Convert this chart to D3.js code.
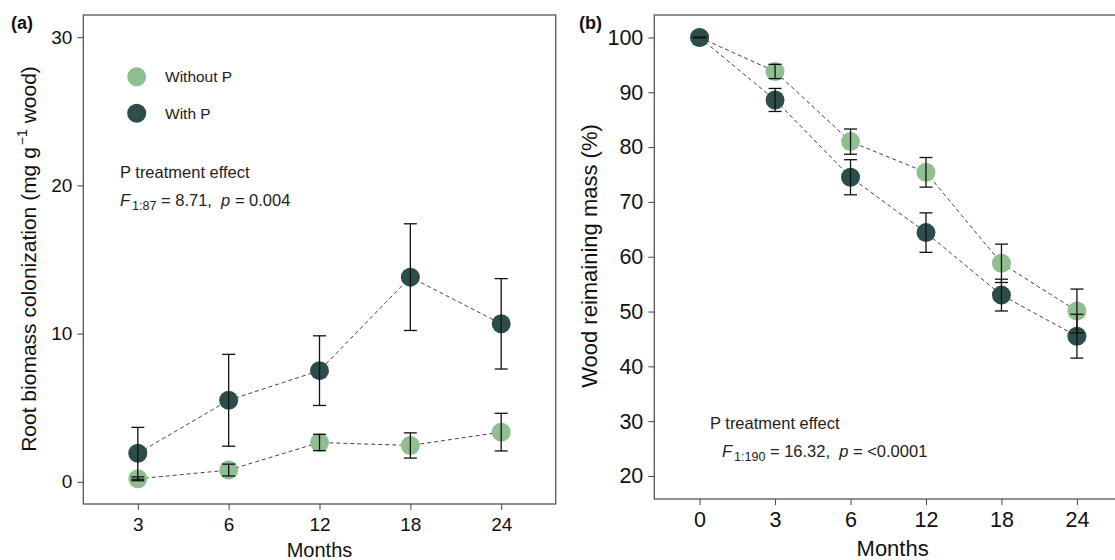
<!DOCTYPE html>
<html>
<head>
<meta charset="utf-8">
<script src="https://cdn.jsdelivr.net/npm/d3@7"></script>
<style>
  body { margin: 0; background: #fff; }
  svg text { font-family: Arial, "Liberation Sans", sans-serif; }
</style>
</head>
<body>
<svg id="chart" width="1115" height="560"></svg>
<script>
// panel (a) root biomass colonization
const monthsA = ["3", "6", "12", "18", "24"];
const withoutA = [0.2, 0.79, 2.65, 2.45, 3.35];
const withoutAErr = [0.13, 0.4, 0.55, 0.85, 1.27];
const withA = [1.92, 5.5, 7.5, 13.81, 10.66];
const withAErr = [1.75, 3.1, 2.35, 3.6, 3.05];
const ticksA = [0, 10, 20, 30];

// panel (b) wood remaining mass
const monthsB = ["0", "3", "6", "12", "18", "24"];
const withoutB = [100, 93.8, 81.0, 75.4, 58.8, 50.1];
const withoutBErr = [0, 1.3, 2.3, 2.7, 3.5, 4.0];
const withB = [100, 88.6, 74.5, 64.4, 53.0, 45.5];
const withBErr = [0, 2.1, 3.2, 3.6, 2.9, 4.0];
const ticksB = [20, 30, 40, 50, 60, 70, 80, 90, 100];

const colWithout = "#8fbe90";
const colWith = "#2c4d4a";
const nb = "\u00a0";

const svg = d3.select("#chart");

let draw_panel = function(cfg) {
  let x = d3.scaleLinear().domain([-0.6, cfg.months.length - 0.4]).range([cfg.left, cfg.right]);
  let y = d3.scaleLinear().domain(cfg.ydom).range([cfg.bottom, cfg.top]);
  let g = svg.append("g");

  g.append("rect")
    .attr("x", cfg.left).attr("y", cfg.top)
    .attr("width", cfg.right - cfg.left).attr("height", cfg.bottom - cfg.top)
    .attr("fill", "none").attr("stroke", "#555").attr("stroke-width", 1.3);

  let yAxis = g.append("g")
    .attr("transform", `translate(${cfg.left},0)`)
    .call(d3.axisLeft(y).tickValues(cfg.yticks).tickSize(6).tickPadding(5).tickSizeOuter(0));
  yAxis.select(".domain").remove();
  yAxis.selectAll("text").attr("font-size", cfg.tickFont).attr("fill", "#111");
  yAxis.selectAll("line").attr("stroke", "#444");

  let xAxis = g.append("g")
    .attr("transform", `translate(0,${cfg.bottom})`)
    .call(d3.axisBottom(x).tickValues(d3.range(cfg.months.length))
      .tickFormat(i => cfg.months[i]).tickSize(6).tickPadding(cfg.xPad).tickSizeOuter(0));
  xAxis.select(".domain").remove();
  xAxis.selectAll("text").attr("font-size", cfg.tickFont).attr("fill", "#111");
  xAxis.selectAll("line").attr("stroke", "#444");

  g.append("text")
    .attr("x", (cfg.left + Math.min(cfg.right, 1115)) / 2 + cfg.xtitleShift)
    .attr("y", cfg.xtitleY)
    .attr("text-anchor", "middle").attr("font-size", cfg.titleFont).attr("fill", "#111")
    .text("Months");

  let series = [
    {vals: cfg.without, err: cfg.withoutErr, col: colWithout},
    {vals: cfg.with, err: cfg.withErr, col: colWith}
  ];
  let line = d3.line().x((d, i) => x(i)).y(d => y(d));

  series.forEach(s => {
    g.append("path")
      .attr("d", line(s.vals))
      .attr("fill", "none").attr("stroke", "#444")
      .attr("stroke-width", 1).attr("stroke-dasharray", "4,3");
  });
  series.forEach(s => {
    g.selectAll(null).data(s.vals).join("circle")
      .attr("cx", (d, i) => x(i)).attr("cy", d => y(d))
      .attr("r", 9.5).attr("fill", s.col);
  });
  series.forEach(s => {
    let eg = g.append("g").attr("stroke", "#111").attr("stroke-width", 1.3);
    s.vals.forEach((v, i) => {
      let e = s.err[i];
      let cx = x(i);
      eg.append("line").attr("x1", cx).attr("x2", cx).attr("y1", y(v - e)).attr("y2", y(v + e));
      eg.append("line").attr("x1", cx - 6.5).attr("x2", cx + 6.5).attr("y1", y(v - e)).attr("y2", y(v - e));
      eg.append("line").attr("x1", cx - 6.5).attr("x2", cx + 6.5).attr("y1", y(v + e)).attr("y2", y(v + e));
    });
  });

  g.append("text")
    .attr("x", cfg.labelX).attr("y", 29)
    .attr("font-size", 18).attr("font-weight", "bold").attr("fill", "#111")
    .text(cfg.label);

  let yt = g.append("text")
    .attr("transform", `translate(${cfg.ytitleX},${cfg.ytitleY}) rotate(-90)`)
    .attr("text-anchor", "middle").attr("font-size", cfg.ytitleFont).attr("fill", "#111");
  cfg.ytitle(yt);

  let st = g.append("g").attr("fill", "#222").attr("font-size", 16.5);
  st.append("text").attr("x", cfg.statX).attr("y", cfg.statY).text("P treatment effect");
  let f = st.append("text").attr("x", cfg.statX + cfg.fShift).attr("y", cfg.statY + 28);
  f.append("tspan").attr("font-style", "italic").text("F");
  f.append("tspan").attr("font-size", 12.5).attr("dy", 4).attr("dx", 2).text(cfg.fsub);
  f.append("tspan").attr("dy", -4).text(nb + "=" + nb + cfg.fval + "," + nb + nb);
  f.append("tspan").attr("font-style", "italic").text("p");
  f.append("tspan").text(nb + "=" + nb + cfg.pval);

  return {x: x, y: y, g: g};
};

let pa = draw_panel({
  months: monthsA, without: withoutA, withoutErr: withoutAErr, with: withA, withErr: withAErr,
  yticks: ticksA, ydom: [-1.5, 31.5],
  left: 83.3, right: 555.7, top: 15, bottom: 504, xtitleShift: 0,
  tickFont: 19, xPad: 8, titleFont: 20, xtitleY: 557,
  label: "(a)", labelX: 11,
  ytitleX: 36, ytitleY: 259, ytitleFont: 21,
  ytitle: t => {
    t.append("tspan").text("Root biomass colonization (mg g");
    t.append("tspan").attr("font-size", 14).attr("dy", -9).attr("dx", 2).text("\u22121");
    t.append("tspan").attr("dy", 9).text(nb + "wood)");
  },
  statX: 120, statY: 178, fShift: 0, fsub: "1:87", fval: "8.71", pval: "0.004"
});

// legend in panel (a)
const legendItems = [{name: "Without P", col: colWithout}, {name: "With P", col: colWith}];
let lg = pa.g.append("g");
lg.selectAll("circle").data(legendItems).join("circle")
  .attr("cx", 136.7).attr("cy", (d, i) => 76.7 + i * 36.5)
  .attr("r", 9.5).attr("fill", d => d.col);
lg.selectAll("text").data(legendItems).join("text")
  .attr("x", 165).attr("y", (d, i) => 82 + i * 36.5)
  .attr("font-size", 15.5).attr("fill", "#222")
  .text(d => d.name);

draw_panel({
  months: monthsB, without: withoutB, withoutErr: withoutBErr, with: withB, withErr: withBErr,
  yticks: ticksB, ydom: [15.8, 104.1],
  left: 654.3, right: 1122.2, top: 15, bottom: 499, xtitleShift: 8,
  tickFont: 21.5, xPad: 7, titleFont: 22, xtitleY: 556,
  label: "(b)", labelX: 579,
  ytitleX: 597, ytitleY: 256, ytitleFont: 22,
  ytitle: t => { t.text("Wood reimaining mass (%)"); },
  statX: 710, statY: 429, fShift: 12, fsub: "1:190", fval: "16.32", pval: "<0.0001"
});
</script>
</body>
</html>
